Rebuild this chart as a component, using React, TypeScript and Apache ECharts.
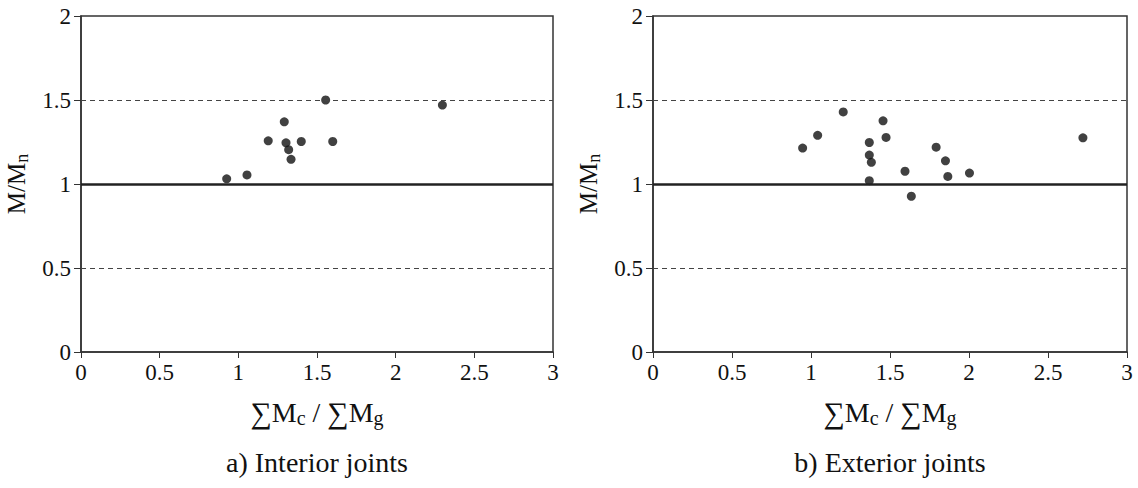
import React, { useEffect, useRef } from "react";
import * as echarts from "echarts";

const xTicks = [0, 0.5, 1, 1.5, 2, 2.5, 3];
const yTicks = [0, 0.5, 1, 1.5, 2];
const interiorX = [0.926, 1.055, 1.19, 1.292, 1.303, 1.32, 1.335, 1.4, 1.555, 1.6, 2.297];
const interiorY = [1.031, 1.054, 1.257, 1.37, 1.245, 1.204, 1.147, 1.253, 1.5, 1.253, 1.47];
const exteriorX = [0.947, 1.042, 1.204, 1.369, 1.369, 1.382, 1.369, 1.456, 1.475, 1.595, 1.635, 1.792, 1.851, 1.866, 2.003, 2.721];
const exteriorY = [1.214, 1.29, 1.429, 1.247, 1.172, 1.129, 1.02, 1.376, 1.277, 1.076, 0.927, 1.219, 1.138, 1.045, 1.065, 1.275];
const dashedLevels = [0.5, 1.5];
const solidLevel = 1;
const captions = ["a) Interior joints", "b) Exterior joints"];

const FONT = "'Liberation Serif', 'Times New Roman', serif";
const TXT = "#111";

export default function App() {
  const ref = useRef<HTMLDivElement>(null);
  useEffect(() => {
    if (!ref.current) return;
    const chart = echarts.init(ref.current, null, { renderer: "svg" });
    const grids = [
      { left: 81, top: 16, width: 472, height: 336 },
      { left: 653, top: 16, width: 474, height: 336 },
    ];
    const axisColor = "#333";
    const xAxes = grids.map((_, i) => ({
      type: "value",
      gridIndex: i,
      min: 0,
      max: 3,
      interval: 0.5,
      name: "{s|∑}{m|M}{sub|c}{m| / }{s|∑}{m|M}{sub|g}",
      nameLocation: "middle",
      nameGap: 44,
      nameTextStyle: {
        fontFamily: FONT,
        fontSize: 28,
        color: TXT,
        rich: {
          s: { fontFamily: FONT, fontSize: 30, color: TXT },
          m: { fontFamily: FONT, fontSize: 28, color: TXT },
          sub: { fontFamily: FONT, fontSize: 20, color: TXT, verticalAlign: "bottom", padding: [12, 0, 0, 0] },
        },
      },
      axisLine: { show: true, lineStyle: { color: axisColor, width: 1.5 } },
      axisTick: { show: true, length: 6, lineStyle: { color: axisColor } },
      axisLabel: {
        fontFamily: FONT,
        fontSize: 23,
        color: TXT,
        margin: 9,
        formatter: (v: number) => (xTicks.includes(v) ? String(v) : ""),
      },
      splitLine: { show: false },
    }));
    const yAxes = grids.map((_, i) => ({
      type: "value",
      gridIndex: i,
      min: 0,
      max: 2,
      interval: 0.5,
      name: "{m|M/M}{sub|n}",
      nameLocation: "middle",
      nameRotate: 90,
      nameGap: 50,
      nameTextStyle: {
        fontFamily: FONT,
        fontSize: 25,
        color: TXT,
        rich: {
          m: { fontFamily: FONT, fontSize: 25, color: TXT },
          sub: { fontFamily: FONT, fontSize: 18, color: TXT, verticalAlign: "bottom", padding: [11, 0, 0, 0] },
        },
      },
      axisLine: { show: true, lineStyle: { color: axisColor, width: 1.5 } },
      axisTick: { show: true, inside: false, length: 7, lineStyle: { color: axisColor } },
      axisLabel: {
        fontFamily: FONT,
        fontSize: 23,
        color: TXT,
        margin: 10,
        formatter: (v: number) => (yTicks.includes(v) ? String(v) : ""),
      },
      splitLine: { show: false },
    }));
    const markLine = {
      silent: true,
      symbol: "none",
      label: { show: false },
      data: [
        ...dashedLevels.map((v) => ({ yAxis: v, lineStyle: { type: [5, 4], color: "#444", width: 1.2 } })),
        { yAxis: solidLevel, lineStyle: { type: "solid", color: "#222", width: 2.5 } },
      ],
    };
    const mk = (xs: number[], ys: number[], i: number) => ({
      type: "scatter",
      xAxisIndex: i,
      yAxisIndex: i,
      symbol: "circle",
      symbolSize: 9,
      itemStyle: { color: "#111" },
      data: xs.map((x, k) => [x, ys[k]]),
      markLine,
      z: 3,
    });
    chart.setOption({
      animation: false,
      backgroundColor: "#fff",
      textStyle: { fontFamily: FONT },
      grid: grids.map((g) => ({ ...g, show: true, borderColor: axisColor, borderWidth: 1.5, backgroundColor: "transparent" })),
      xAxis: xAxes,
      yAxis: yAxes,
      graphic: captions.map((c, i) => ({
        type: "text",
        x: i === 0 ? 317 : 890,
        y: 462,
        style: {
          text: c,
          fontFamily: FONT,
          fontSize: 28,
          fill: TXT,
          align: "center",
          verticalAlign: "middle",
        },
      })),
      series: [mk(interiorX, interiorY, 0), mk(exteriorX, exteriorY, 1)],
    });
    return () => chart.dispose();
  }, []);
  return <div ref={ref} style={{ position: "fixed", left: 0, top: 0, width: 1138, height: 488 }} />;
}
